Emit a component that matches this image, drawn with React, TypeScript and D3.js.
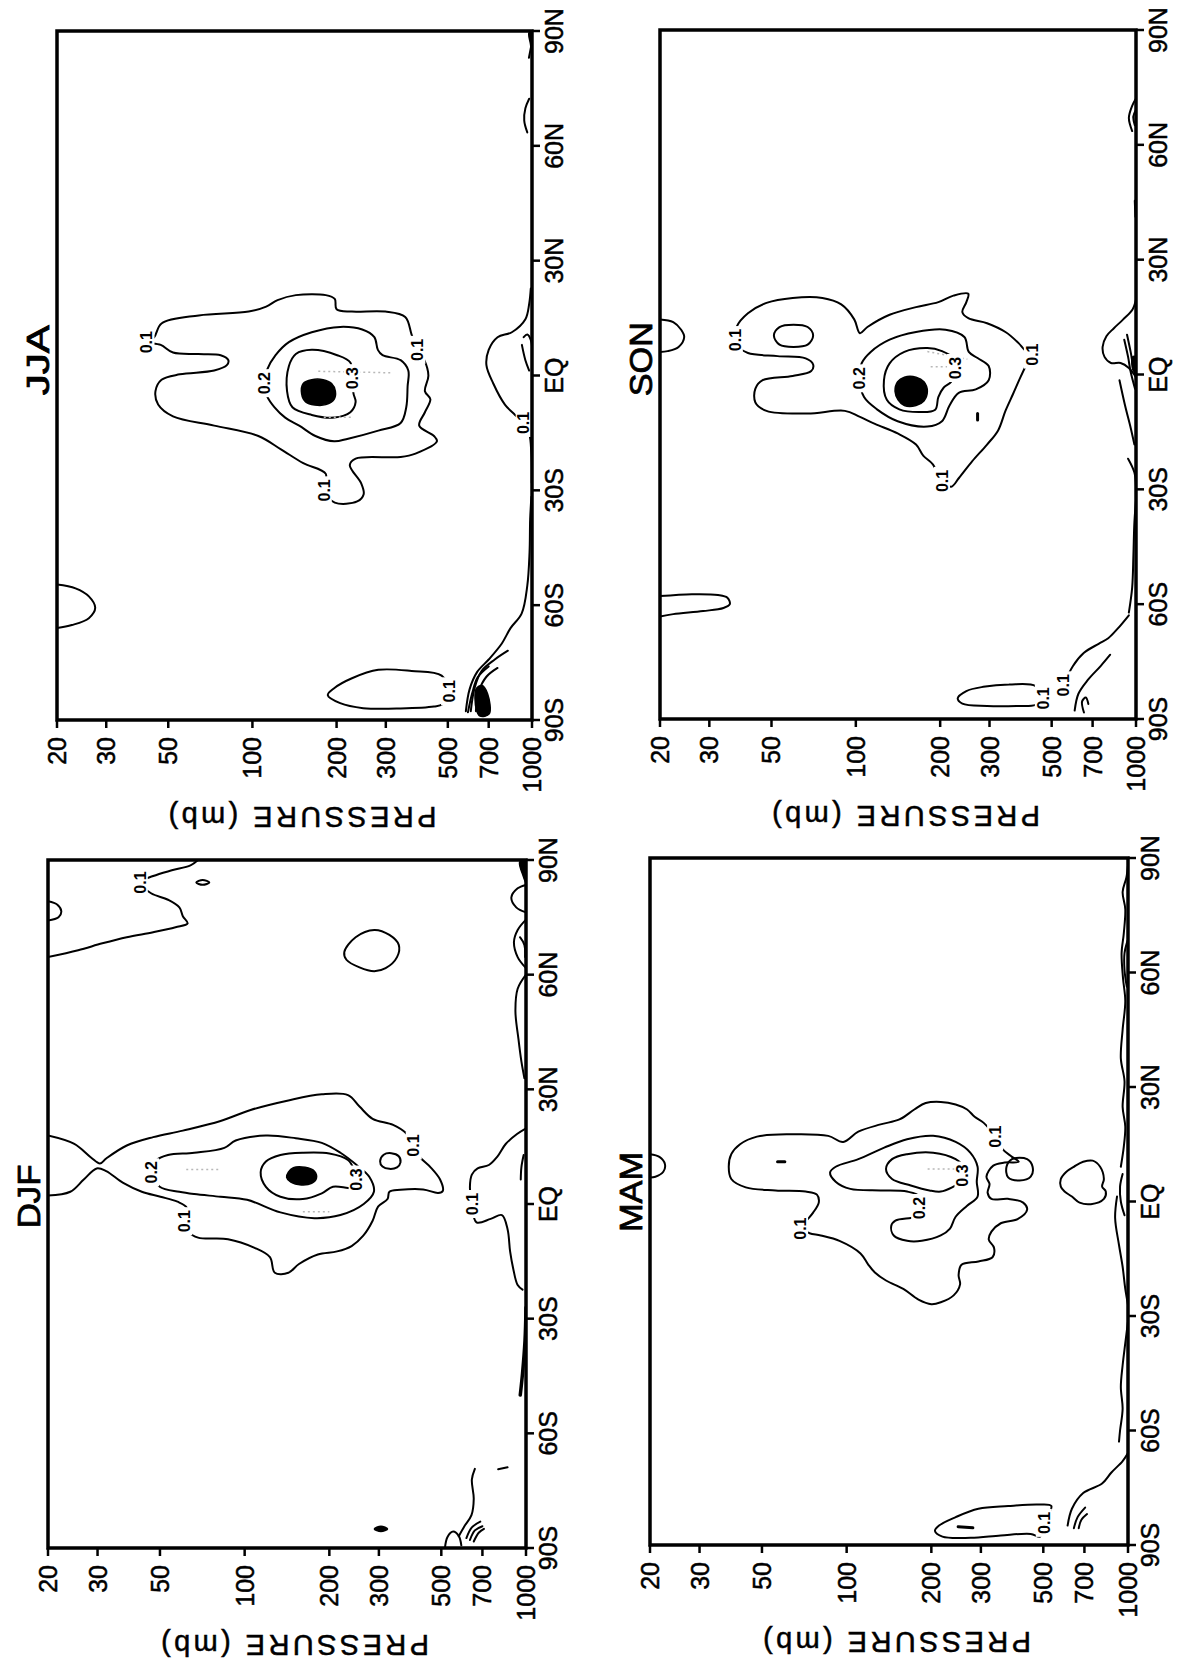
import React from "react";
import * as d3 from "d3";

// Each point is [pressure (mb), latitude (deg, north positive)]
type Pt = [number, number];

const LAT_TICKS = [-90, -60, -30, 0, 30, 60, 90];
const LAT_TICK_LABELS = ["90S", "60S", "30S", "EQ", "30N", "60N", "90N"];
const P_TICKS = [20, 30, 50, 100, 200, 300, 500, 700, 1000];
const P_TICK_LABELS = ["20", "30", "50", "100", "200", "300", "500", "700", "1000"];
const P_DOMAIN: [number, number] = [20, 1000];
const LAT_DOMAIN: [number, number] = [-90, 90];
const AXIS_TITLE = "PRESSURE (mb)";

// ---------------- JJA ----------------
const jja01: Pt[] = [[44.5,10],[47.3,13.6],[64.3,15.7],[97,16.7],[112,18],[123,19.7],[143,21],[183,21],[197,20],[200,17.3],[227,16.7],[299,16.7],[352,15.3],[371,10.7],[389,6.7],[412,4],[426,0],[414,-4.1],[433,-6.2],[414,-9.6],[395,-13.1],[446,-15.8],[457,-17.2],[383,-20.4],[339,-21.3],[234,-21.7],[223,-23.4],[245,-28.2],[250,-31],[237,-32.9],[197,-33.2],[180,-30],[183,-25.7],[152,-22.9],[126.5,-19.3],[105,-15.8],[73,-13.1],[52,-10.7],[46,-7.6],[45,-4.1],[47.3,-1.1],[55,0.3],[73,1.3],[81,2.7],[82,4],[77,5.3],[64,5.6],[52,6],[47,8],[41.8,8.7]];
const jja02: Pt[] = [[113,1.6],[121,5.3],[135,8.7],[163,11.3],[206,12.7],[247,12],[273,10],[281,6.7],[292,5.3],[339,4],[361,1.3],[359,-2.8],[355,-8.3],[339,-12.4],[282,-14.4],[220,-16.5],[196,-17.2],[168,-15.8],[147,-13.1],[131,-11],[120,-8.3],[113,-5.5],[110,-2]];
const jja03: Pt[] = [[224,3.4],[201,5.3],[163,6.7],[143,5.6],[135,2.4],[133,-4.1],[139,-8.3],[163,-10.3],[196,-11],[224,-9.6],[234,-6.9],[230,-4.8],[227,-0.7]];
const jjaCore: Pt[] = [[152,-2.1],[163,-1.1],[179,-1.1],[192,-2.1],[198,-4.1],[196,-6.2],[183,-7.6],[167,-7.7],[155,-6.9],[150,-4.8]];
const jjaTopBump: Pt[] = [[20,-54.6],[23.3,-55.6],[26,-57.7],[27.4,-60.7],[26,-63.4],[22.6,-65.2],[20,-66]];
const jjaPolarLoop: Pt[] = [[475,-78.4],[371,-77.2],[282,-76.9],[227,-79.1],[196,-81.7],[186,-83.5],[206,-85.6],[249,-86.9],[339,-87],[446,-86.5],[478,-85.9],[505,-82.5]];
const jjaSfcEq: Pt[] = [[990,22.7],[977,18.7],[947,14.7],[847,11.3],[753,10],[700,6.7],[687,2.7],[727,-2.1],[800,-7.6],[870,-10.3],[934,-12.4],[977,-15.1],[995,-20.6],[998,-28]];
const jjaSfcSouth: Pt[] = [[995,-31.7],[985,-37.5],[980,-46.2],[962,-54.9],[918,-62.2],[838,-66],[780,-70],[700,-74.2],[636,-77.5],[598,-82],[580,-87.7]];
const jjaPoleCore: Pt[] = [[632,-81.8],[662,-81],[694,-83.2],[703,-88.4],[652,-89],[632,-87.2]];
const jjaPoleA: Pt[] = [[604,-87.7],[623,-81.7],[660,-77.2],[736,-74.2],[820,-71.9]];
const jjaPoleB: Pt[] = [[630,-87.7],[646,-82.4],[687,-78.7],[753,-76.4]];
const jjaPoleC: Pt[] = [[590,-88],[612,-82.8],[640,-78.8],[700,-76]];
const jjaEqArcA: Pt[] = [[934,10],[962,10.7],[995,8.7],[1000,4]];
const jjaEqArcB: Pt[] = [[920,8],[947,4],[977,1.3]];
const jjaNorthArcA: Pt[] = [[977,72.3],[947,69.8],[938,66.6],[962,63.5]];
const jjaNorthArcB: Pt[] = [[975,83],[990,85.5],[1000,87]];
const jjaCornerBlob: Pt[] = [[975,89.5],[1000,90],[1000,84],[988,86.5]];
const jjaFaintA: Pt[] = [[172,1.1],[315,0.7]];
const jjaFaintB: Pt[] = [[180,-10.9],[227,-10.9]];

// ---------------- SON ----------------
const son01: Pt[] = [[37.5,12.4],[41.2,16],[48,18.7],[59.5,20],[76,20],[88.7,18.3],[98.7,14.4],[103.4,10.8],[110,12.4],[132,15.6],[164,17.6],[197,18.9],[223,20.6],[252,21.1],[248,18.9],[240,16.3],[252,14.7],[294,13.4],[342,11.1],[381,8.2],[400,6.5],[425,5.2],[409,3],[387,-0.7],[364,-5.1],[342,-9.5],[322,-14.6],[294,-18.3],[260,-22.7],[233,-27.1],[219,-29.3],[203,-27.8],[188,-23.4],[174,-21.2],[164,-18.3],[141,-15.4],[117,-12.9],[103,-11],[91.4,-9.5],[67.3,-10.2],[48,-9.5],[43.8,-7.3],[43.8,-3.7],[46.5,-1.5],[59.5,-0.4],[69.3,0.9],[70.4,2.6],[66.2,4.2],[52.6,4.8],[41.2,5.6],[38.1,7.2],[37,9]];
const son01Loop: Pt[] = [[51,10.2],[53.4,12.4],[59.9,13],[67.3,12.4],[70.4,10.2],[67.3,7.8],[59.9,7.2],[53.4,7.8]];
const son02: Pt[] = [[105,3],[113,5.9],[132,9.1],[164,11.1],[209,11.7],[244,9.8],[253,5.9],[272,4.3],[298,2.2],[298,-1.5],[268,-3.9],[233,-4.8],[216,-8.1],[203,-12.2],[180,-13.6],[141,-12.2],[119,-9.1],[107,-5.9],[103,-1]];
const son03: Pt[] = [[223,4.2],[203,6.1],[180,6.9],[149,5.9],[132,2.9],[126,-1.5],[129,-6.6],[143,-9.1],[169,-9.8],[192,-9.2],[197,-5.9],[206,-3.4],[219,-1.9],[226,1.7]];
const sonCore: Pt[] = [[141,-1.9],[149,-0.7],[164,-0.7],[175,-1.9],[180,-4.4],[175,-6.9],[164,-8.1],[149,-8.1],[141.5,-6.6],[138,-4.4]];
const sonTopBump: Pt[] = [[20,14.4],[22.3,13.7],[23.8,11.7],[24.4,9.8],[23.3,7.2],[21.3,6.1],[20,5.9]];
const sonTopBump60S: Pt[] = [[20,-57.9],[26,-57.4],[32.2,-57.6],[34.8,-58.3],[35.5,-60],[33.7,-61],[28.5,-61.8],[22.3,-62.6],[20,-63.2]];
const sonPolarLoop: Pt[] = [[438,-81.4],[353,-81],[285,-81.6],[248,-82.7],[231,-84.6],[240,-86],[294,-86.6],[375,-86.6],[438,-86.3],[465,-84.6]];
const sonPoleA: Pt[] = [[551,-81.2],[595,-76.2],[652,-72.7],[738,-70.3],[796,-68.9],[860,-66.4],[943,-62.9]];
const sonPoleB: Pt[] = [[604,-87.8],[623,-83.4],[673,-79.8],[749,-76.1],[809,-73.2]];
const sonPoleC: Pt[] = [[652,-88.3],[642,-85.4],[662,-84.4],[676,-86.1]];
const sonSfcA: Pt[] = [[873,-1.5],[914,-8.1],[957,-13.9],[987,-18.3]];
const sonSfcB: Pt[] = [[937,-22],[987,-25.6],[1000,-29.3]];
const sonSfcC: Pt[] = [[1000,-32.9],[987,-38.6],[979,-47.1],[969,-55.7],[943,-62.2]];
const sonSfcEq: Pt[] = [[1000,19.6],[972,17],[900,14.4],[834,12.1],[784,10],[760,7.2],[772,4.6],[814,3],[881,3],[943,1.7],[1000,-0.7]];
const sonSfcEq2: Pt[] = [[929,10.4],[957,5.9],[978,2],[1000,-0.7]];
const sonSfcEq3: Pt[] = [[908,9.1],[937,4.6],[957,0.7],[992,-3.7]];
const sonSfcMark: Pt[] = [[972,4.6],[1000,4.6],[1000,0.7],[978,1]];
const sonNorthA: Pt[] = [[1000,72.1],[969,70.2],[943,67],[969,63.6]];
const sonNorthB: Pt[] = [[1000,69.2],[978,67.4],[990,65.1]];
const sonNorthC: Pt[] = [[990,45.4],[995,41.2]];
const sonDash: Pt[] = [[272,-10.2],[272,-11.9]];
const sonFaintA: Pt[] = [[180,6],[250,4]];
const sonFaintB: Pt[] = [[185,2],[235,2]];

// ---------------- DJF ----------------
const djf01: Pt[] = [[20,17.9],[24.8,15.7],[28.5,12.1],[30.6,10.6],[32.2,11.9],[38.1,15.3],[47.3,17.5],[60.3,19.2],[82.1,21.7],[105,24.6],[143,27.1],[188,28.7],[233,28.5],[256,25.5],[285,22.3],[337,20.7],[375,18.5],[399,15.3],[418,12.4],[458,9.6],[495,6.4],[506,3.4],[487,2.9],[431,3.8],[358,3.7],[327,3.2],[322,1.3],[298,-0.7],[285,-4.4],[264,-8.3],[240,-11],[213,-12.4],[182,-13.2],[156,-15.7],[143,-18],[128,-18],[123,-13.9],[108,-11.4],[87.3,-9.2],[68.3,-8.8],[63.2,-7.3],[61,-4.5],[62.3,-1],[57.7,0.6],[50.2,1.9],[43.1,3.2],[37,5.5],[32.2,8.6],[29.8,9.3],[26.8,6.4],[24,3.2],[20,2.2]];
const djf01Loop: Pt[] = [[303,11.2],[312,12.9],[332,13.3],[353,12.5],[358,10.9],[348,9.6],[327,9.2],[309,9.8]];
const djf02: Pt[] = [[48.7,11.5],[53.4,12.8],[66.2,13.4],[84.7,14.7],[92.9,16.6],[119,17.9],[152,17.2],[188,16],[219,13.4],[250,10.2],[278,7],[288,3.2],[265,0],[219,-2.9],[177,-3.7],[134,-2.2],[102,1.1],[82.1,1.9],[66.2,2.6],[58.6,3.2],[49.9,4.5],[46.5,8.3]];
const djf03: Pt[] = [[245,8.9],[233,11.5],[200,13.2],[161,13.4],[134,12.8],[119,11.1],[114,8.3],[119,4.5],[134,1.9],[161,1.3],[188,2.8],[206,4.5],[233,4.2],[245,4.2],[250,6.4]];
const djfCore: Pt[] = [[143,8.3],[149,9.5],[164,9.6],[177,8.6],[180,6.8],[173,5.4],[159,5],[146,5.7],[141,7]];
const djfNorth01: Pt[] = [[68.3,90],[64.2,88.6],[55.1,87.3],[47.3,85.8],[42.4,84.1],[46.5,81.3],[53.4,79.6],[58.6,77.6],[60.3,75.3],[62.7,73.4],[56.8,72.4],[47.3,71.1],[38.1,69.8],[31.2,68.2],[25.6,66.4],[20,64.6]];
const djfNorthDot: Pt[] = [[67.3,84.1],[70.9,84.8],[74.9,84.1],[70.9,83.5]];
const djfNorthBump: Pt[] = [[20,79.2],[21.6,78.3],[22.3,76.6],[21.8,75],[20,74.2]];
const djfLoop60N: Pt[] = [[226,65.9],[248,69.8],[289,71.7],[327,70.4],[353,67.8],[348,64.6],[317,61.7],[289,60.9],[256,61.9],[230,63.9]];
const djfPoleDot: Pt[] = [[289,-85],[305,-84.3],[322,-85],[305,-85.7]];
const djfSfcEq: Pt[] = [[1000,19.8],[929,18.3],[847,15.7],[791,12.4],[738,10.2],[673,9.3],[642,7.7],[632,4.5],[642,0],[667,-4.8],[749,-3.9],[821,-2.9],[860,-6.6],[878,-12.4],[900,-16.8],[934,-21.2],[972,-22.4]];
const djfSfcSouth: Pt[] = [[1000,-27.1],[992,-35.7],[972,-44.3],[954,-50]];
const djfPoleDash: Pt[] = [[860,-68.9],[796,-69.4]];
const djfPoleLine: Pt[] = [[658,-69.3],[642,-72.1],[652,-77.1],[640,-81.4],[604,-84.3],[577,-86.9]];
const djfPoleArcA: Pt[] = [[614,-87.4],[642,-84.6],[688,-83.1]];
const djfPoleArcB: Pt[] = [[632,-87.9],[658,-85.4],[700,-84.3]];
const djfPoleArcC: Pt[] = [[652,-88.3],[679,-86],[709,-85]];
const djfPoleBump: Pt[] = [[515,-90],[526,-87.1],[551,-85.7],[577,-86.9],[589,-89.3]];
const djfNorthSfcA: Pt[] = [[1000,83.5],[934,82.6],[887,80.2],[923,77.6],[1000,76.3]];
const djfNorthSfcB: Pt[] = [[1000,74.4],[934,71.7],[906,68.5],[934,64.6],[1000,61.7]];
const djfNorthSfcC: Pt[] = [[952,69.8],[987,67.8],[993,64.6]];
const djfNorthSfcD: Pt[] = [[1000,60],[934,56.3],[917,50.5],[940,43.2],[963,37.3],[987,32.9]];
const djfEqArc: Pt[] = [[981,12.8],[963,9.6],[958,6.4]];
const djfCornerBlob: Pt[] = [[950,89.5],[1000,90],[1000,84],[975,86]];
const djfFaintA: Pt[] = [[62,9],[82,9]];
const djfFaintB: Pt[] = [[161,-2],[200,-2]];

// ---------------- MAM ----------------
const mam01: Pt[] = [[76,-2.9],[79.6,-0.3],[78.4,1.8],[71.5,2.6],[55.9,2.9],[43.8,3.7],[38.9,5.9],[38.1,9.1],[38.9,12.4],[41.8,15],[48,17],[63.2,17.6],[86,17.2],[97.2,15.6],[110,18.3],[132,20.2],[154,21.5],[174,24.1],[191,25.8],[216,26.1],[244,25.4],[268,24.1],[285,22.2],[307,20.6],[337,17],[358,13.7],[387,11.7],[409,10.4],[364,10.2],[332,9.4],[314,6.5],[322,4.6],[317,2.3],[327,0.7],[375,0.7],[424,-0.3],[438,-2.1],[405,-4.6],[353,-5.7],[327,-7.9],[320,-10],[334,-12.1],[330,-14.6],[294,-15.7],[256,-16.6],[250,-19.3],[253,-21.7],[240,-24.6],[216,-26.4],[200,-26.9],[180,-25.7],[159,-22.9],[138,-20.7],[126,-18.6],[119,-16.4],[112,-13.6],[94.3,-10.3],[80.9,-8.9],[73.8,-8.3],[68.3,-7.1],[72,-5]];
const mam02: Pt[] = [[182,1.3],[164,2.6],[132,2.9],[103,3.3],[91.4,5.2],[87.3,7.6],[91.4,9.1],[110,11.1],[136,14.1],[164,16.3],[203,17.2],[244,15.6],[275,12.8],[292,9.1],[290,5.2],[292,1.3],[268,-1.1],[244,-4],[233,-7.1],[216,-8.9],[185,-10.3],[164,-10.3],[147,-8.9],[144,-6.4],[149,-5],[169,-4.3],[177,-4],[181,-1.7]];
const mam03: Pt[] = [[258,9.4],[244,11.1],[203,12.8],[164,12.4],[145,11.1],[138,8.5],[145,5.9],[169,4.2],[197,2.9],[216,2.6],[237,3.7],[252,5],[258,6.8]];
const mamDash: Pt[] = [[56.8,10.4],[60.3,10.4]];
const mamLoopR: Pt[] = [[370,9.1],[387,11.1],[438,11.1],[458,9.1],[451,6.5],[412,5.5],[375,6.3]];
const mamSfcLoop: Pt[] = [[577,5.9],[604,7.8],[642,9.1],[693,10.4],[749,10.7],[796,9.1],[821,5.9],[809,3.9],[834,2.6],[821,0.7],[738,-0.7],[673,-0.3],[632,1.3],[595,2.6],[577,3.9]];
const mamTopBump: Pt[] = [[20,12.4],[21.6,11.7],[22.6,9.8],[22.3,7.8],[20.9,6.5],[20,6.3]];
const mamPolarLoop: Pt[] = [[534,-79.8],[480,-79.4],[375,-79.8],[294,-80.5],[244,-82.7],[213,-84.9],[206,-86.3],[219,-87.8],[276,-88.1],[353,-87.5],[451,-87.1],[487,-87.8],[502,-84.2]];
const mamPolarDash: Pt[] = [[249,-85.2],[281,-85.5]];
const mamPoleA: Pt[] = [[610,-84.9],[632,-80.5],[693,-76.4],[809,-73.9],[873,-71],[957,-68],[1000,-65.9]];
const mamPoleB: Pt[] = [[642,-85.6],[662,-82.7],[704,-80.2]];
const mamPoleC: Pt[] = [[668,-85.6],[683,-83.4],[715,-81.9]];
const mamSfcN: Pt[] = [[1000,88.1],[987,84.9],[957,81.1],[978,76.6],[966,70.2],[949,65.1],[960,58.5],[978,52.5],[957,45],[943,37.5],[972,31.5],[957,24.8],[978,19.6],[966,14.3],[943,9.1]];
const mamSfcS: Pt[] = [[914,1.3],[900,-4.3],[929,-11.4],[957,-17.1],[978,-22.9],[1000,-27.1]];
const mamSfcS2: Pt[] = [[1000,-31.4],[978,-37.1],[957,-42.9],[943,-48.6],[957,-54.3],[937,-60],[929,-62.9]];
const mamSfcN2: Pt[] = [[996,68.3],[972,65.1],[972,60.6],[990,56.3]];
const mamSfcEq: Pt[] = [[957,7.2],[937,3.9],[943,0],[972,-3.6]];
const mamFaint: Pt[] = [[194,8.5],[250,8.5]];

type Kind = "open" | "closed" | "filled" | "faint";
type Mark = { pts: Pt[]; kind: Kind; w?: number };
type ContourLabel = { text: string; at: Pt };

const jjaMarks: Mark[] = [
  { pts: jja01, kind: "closed" }, { pts: jja02, kind: "closed" }, { pts: jja03, kind: "closed" },
  { pts: jjaCore, kind: "filled" }, { pts: jjaTopBump, kind: "open" }, { pts: jjaPolarLoop, kind: "closed" },
  { pts: jjaSfcEq, kind: "open" }, { pts: jjaSfcSouth, kind: "open" }, { pts: jjaPoleCore, kind: "filled" },
  { pts: jjaPoleA, kind: "open" }, { pts: jjaPoleB, kind: "open" }, { pts: jjaPoleC, kind: "open" },
  { pts: jjaEqArcA, kind: "open" }, { pts: jjaEqArcB, kind: "open" }, { pts: jjaNorthArcA, kind: "open" },
  { pts: jjaNorthArcB, kind: "open" }, { pts: jjaCornerBlob, kind: "filled" },
  { pts: jjaFaintA, kind: "faint" }, { pts: jjaFaintB, kind: "faint" },
];
const jjaLabels: ContourLabel[] = [
  { text: "0.1", at: [41.8, 8.7] }, { text: "0.1", at: [389, 6.7] }, { text: "0.1", at: [180, -30] },
  { text: "0.1", at: [505, -82.5] }, { text: "0.1", at: [934, -12.4] }, { text: "0.2", at: [110, -2] },
  { text: "0.3", at: [227, -0.7] },
];

const sonMarks: Mark[] = [
  { pts: son01, kind: "closed" }, { pts: son01Loop, kind: "closed" }, { pts: son02, kind: "closed" },
  { pts: son03, kind: "closed" }, { pts: sonCore, kind: "filled" }, { pts: sonTopBump, kind: "open" },
  { pts: sonTopBump60S, kind: "open" }, { pts: sonPolarLoop, kind: "closed" }, { pts: sonPoleA, kind: "open" },
  { pts: sonPoleB, kind: "open" }, { pts: sonPoleC, kind: "open" }, { pts: sonSfcA, kind: "open" },
  { pts: sonSfcB, kind: "open" }, { pts: sonSfcC, kind: "open" }, { pts: sonSfcEq, kind: "open" },
  { pts: sonSfcEq2, kind: "open" }, { pts: sonSfcEq3, kind: "open" }, { pts: sonSfcMark, kind: "filled" },
  { pts: sonNorthA, kind: "open" }, { pts: sonNorthB, kind: "open" }, { pts: sonNorthC, kind: "open" },
  { pts: sonDash, kind: "open", w: 3 }, { pts: sonFaintA, kind: "faint" }, { pts: sonFaintB, kind: "faint" },
];
const sonLabels: ContourLabel[] = [
  { text: "0.1", at: [37, 9] }, { text: "0.1", at: [425, 5.2] }, { text: "0.1", at: [203, -27.8] },
  { text: "0.2", at: [103, -1] }, { text: "0.3", at: [226, 1.7] }, { text: "0.1", at: [465, -84.6] },
  { text: "0.1", at: [551, -81.2] },
];

const djfMarks: Mark[] = [
  { pts: djf01, kind: "open" }, { pts: djf01Loop, kind: "closed" }, { pts: djf02, kind: "closed" },
  { pts: djf03, kind: "closed" }, { pts: djfCore, kind: "filled" }, { pts: djfNorth01, kind: "open" },
  { pts: djfNorthDot, kind: "closed" }, { pts: djfNorthBump, kind: "open" }, { pts: djfLoop60N, kind: "closed" },
  { pts: djfPoleDot, kind: "filled" }, { pts: djfSfcEq, kind: "open" }, { pts: djfSfcSouth, kind: "open", w: 3.5 },
  { pts: djfPoleDash, kind: "open" }, { pts: djfPoleLine, kind: "open" }, { pts: djfPoleArcA, kind: "open" },
  { pts: djfPoleArcB, kind: "open" }, { pts: djfPoleArcC, kind: "open" }, { pts: djfPoleBump, kind: "open" },
  { pts: djfNorthSfcA, kind: "open" }, { pts: djfNorthSfcB, kind: "open" }, { pts: djfNorthSfcC, kind: "open" },
  { pts: djfNorthSfcD, kind: "open" }, { pts: djfEqArc, kind: "open" }, { pts: djfCornerBlob, kind: "filled" },
  { pts: djfFaintA, kind: "faint" }, { pts: djfFaintB, kind: "faint" },
];
const djfLabels: ContourLabel[] = [
  { text: "0.1", at: [42.4, 84.1] }, { text: "0.1", at: [399, 15.3] }, { text: "0.2", at: [46.5, 8.3] },
  { text: "0.3", at: [250, 6.4] }, { text: "0.1", at: [61, -4.5] }, { text: "0.1", at: [642, 0] },
];

const mamMarks: Mark[] = [
  { pts: mam01, kind: "closed" }, { pts: mam02, kind: "closed" }, { pts: mam03, kind: "closed" },
  { pts: mamDash, kind: "open", w: 3 }, { pts: mamLoopR, kind: "closed" }, { pts: mamSfcLoop, kind: "closed" },
  { pts: mamTopBump, kind: "open" }, { pts: mamPolarLoop, kind: "closed" }, { pts: mamPolarDash, kind: "open", w: 3 },
  { pts: mamPoleA, kind: "open" }, { pts: mamPoleB, kind: "open" }, { pts: mamPoleC, kind: "open" },
  { pts: mamSfcN, kind: "open" }, { pts: mamSfcS, kind: "open" }, { pts: mamSfcS2, kind: "open" },
  { pts: mamSfcN2, kind: "open" }, { pts: mamSfcEq, kind: "open" }, { pts: mamFaint, kind: "faint" },
];
const mamLabels: ContourLabel[] = [
  { text: "0.1", at: [68.3, -7.1] }, { text: "0.1", at: [337, 17] }, { text: "0.2", at: [181, -1.7] },
  { text: "0.3", at: [258, 6.8] }, { text: "0.1", at: [502, -84.2] },
];

const FONT = "'Liberation Sans', Arial, Helvetica, sans-serif";

type PanelSpec = {
  season: string;
  L: number; R: number; T: number; B: number;
  titleLat: number; titleLen: number;
  marks: Mark[]; labels: ContourLabel[];
};

const PANELS: PanelSpec[] = [
  { season: "JJA", L: 57, R: 532, T: 31, B: 720, titleLat: 4, titleLen: 70, marks: jjaMarks, labels: jjaLabels },
  { season: "SON", L: 660, R: 1136, T: 30, B: 719, titleLat: 4, titleLen: 74, marks: sonMarks, labels: sonLabels },
  { season: "DJF", L: 48, R: 526, T: 860, B: 1548, titleLat: 2, titleLen: 64, marks: djfMarks, labels: djfLabels },
  { season: "MAM", L: 650, R: 1128, T: 858, B: 1545, titleLat: 2.5, titleLen: 80, marks: mamMarks, labels: mamLabels },
];

function Panel({ spec }: { spec: PanelSpec }) {
  // The panel is laid out with latitude along x and pressure along y,
  // then turned a quarter-turn counter-clockwise as a whole.
  const W = spec.B - spec.T;
  const H = spec.R - spec.L;
  const x = d3.scaleLinear().domain(LAT_DOMAIN).range([0, W]);
  const y = d3.scaleLog().domain(P_DOMAIN).range([0, H]);
  const openLine = d3.line<Pt>().x((d) => x(d[1])).y((d) => y(d[0])).curve(d3.curveCatmullRom.alpha(0.5));
  const closedLine = d3.line<Pt>().x((d) => x(d[1])).y((d) => y(d[0])).curve(d3.curveCatmullRomClosed.alpha(0.5));
  const clipId = `clip-${spec.season}`;

  return (
    <g transform={`translate(${spec.L},${spec.B}) rotate(-90)`}>
      <defs>
        <clipPath id={clipId}>
          <rect x={0} y={0} width={W} height={H} />
        </clipPath>
      </defs>
      <g clipPath={`url(#${clipId})`}>
        {spec.marks.map((m, i) => {
          if (m.kind === "filled") {
            return <path key={i} d={closedLine(m.pts) || ""} fill="#000" stroke="#000" strokeWidth={1.5} />;
          }
          if (m.kind === "faint") {
            return <path key={i} d={openLine(m.pts) || ""} fill="none" stroke="#b8b8b8" strokeWidth={1.5} strokeDasharray="2 3" />;
          }
          const d = m.kind === "closed" ? closedLine(m.pts) : openLine(m.pts);
          return (
            <path key={i} d={d || ""} fill="none" stroke="#000" strokeWidth={m.w ?? 2}
              strokeLinejoin="round" strokeLinecap="round" />
          );
        })}
        {spec.labels.map((lb, i) => {
          const cx = x(lb.at[1]);
          const cy = y(lb.at[0]);
          return (
            <g key={i}>
              <rect x={cx - 14} y={cy - 8} width={28} height={16} fill="#fff" />
              <text x={cx} y={cy} dy="0.36em" textAnchor="middle" fontFamily={FONT} fontSize={16}
                fontWeight="bold" fill="#000">{lb.text}</text>
            </g>
          );
        })}
      </g>

      <rect x={0} y={0} width={W} height={H} fill="none" stroke="#000" strokeWidth={3.5} />

      {/* latitude axis */}
      {LAT_TICKS.map((t, i) => (
        <g key={`lt${i}`}>
          <line x1={x(t)} x2={x(t)} y1={H} y2={H + 8} stroke="#000" strokeWidth={2.5} />
          <text x={x(t)} y={H + 13} dy="0.72em" textAnchor="middle" fontFamily={FONT} fontSize={25}
            fill="#000" stroke="#000" strokeWidth={0.5}>{LAT_TICK_LABELS[i]}</text>
        </g>
      ))}

      {/* pressure axis */}
      {P_TICKS.map((t, i) => (
        <g key={`pt${i}`}>
          <line x1={0} x2={-8} y1={y(t)} y2={y(t)} stroke="#000" strokeWidth={2.5} />
          <text x={-17} y={y(t)} dy="0.36em" textAnchor="end" fontFamily={FONT} fontSize={25}
            fill="#000" stroke="#000" strokeWidth={0.5}>{P_TICK_LABELS[i]}</text>
        </g>
      ))}

      <text transform={`translate(${-87},${H / 2 + 8}) rotate(-90)`} textAnchor="middle" fontFamily={FONT}
        fontSize={29} textLength={268} lengthAdjust="spacing" fill="#000" stroke="#000" strokeWidth={0.5}>
        {AXIS_TITLE}
      </text>

      <text x={x(spec.titleLat)} y={-20} dy="0.36em" textAnchor="middle" fontFamily={FONT} fontSize={32}
        textLength={spec.titleLen} lengthAdjust="spacingAndGlyphs" fill="#000" stroke="#000" strokeWidth={0.8}>
        {spec.season}
      </text>
    </g>
  );
}

export default function App() {
  return (
    <svg width={1182} height={1670} viewBox="0 0 1182 1670"
      style={{ position: "absolute", left: 0, top: 0, background: "#fff", display: "block" }}>
      <rect x={0} y={0} width={1182} height={1670} fill="#fff" />
      {PANELS.map((p) => (
        <Panel key={p.season} spec={p} />
      ))}
    </svg>
  );
}
